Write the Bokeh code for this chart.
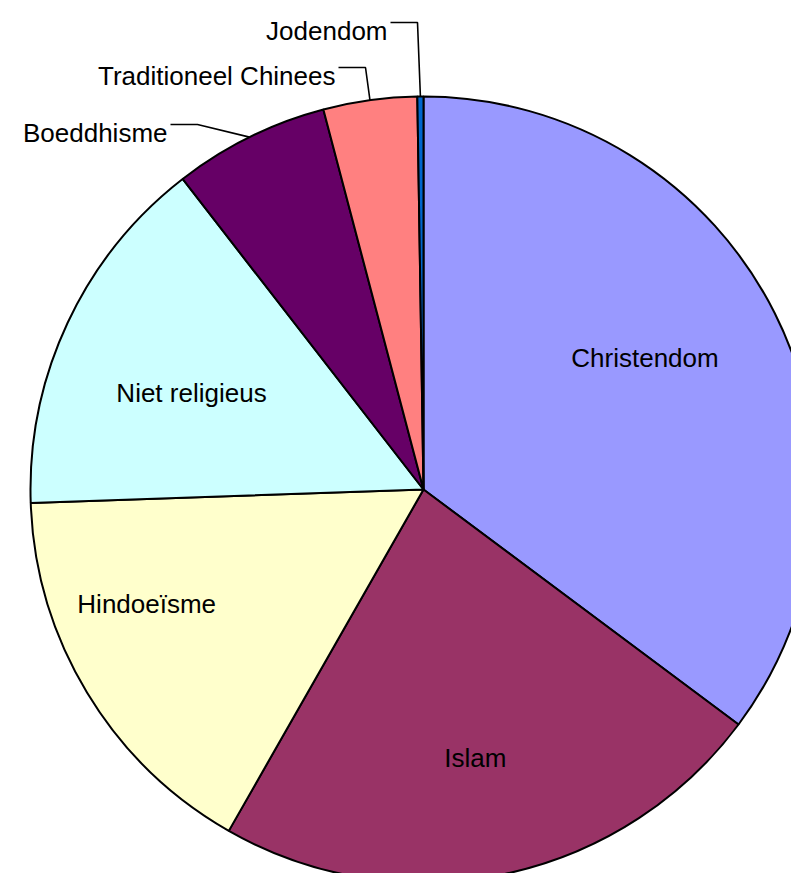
import math
from bokeh.plotting import figure
from bokeh.models import Range1d, ColumnDataSource
from bokeh.embed import file_html
from bokeh.resources import INLINE
from bokeh.core.properties import value

# ---- data ----
religions = ["Christendom", "Islam", "Hindoeïsme", "Niet religieus",
             "Boeddhisme", "Traditioneel Chinees", "Jodendom"]
shares = [35.2, 23.05, 16.2, 15.05, 6.4, 3.85, 0.25]
colors = ["#9999FF", "#993366", "#FFFFCC", "#CCFFFF",
          "#660066", "#FF8080", "#0066CC"]

# ---- layout ----
W, H = 791, 873          # figure size in px
R_PX = 393               # pie radius in px
CX, CY = 423, 489        # pie centre in figure px
FONT = value("Liberation Sans")
FSIZE = "26px"

# inside labels: (angle shift from slice middle in degrees, radius fraction)
inside = {"Christendom": (-4.0, 0.655), "Islam": (0.9, 0.697),
          "Hindoeïsme": (8.7, 0.762), "Niet religieus": (-2.6, 0.639)}
# outside labels: right edge x and baseline y in figure px
outside = {"Boeddhisme": (167, 132), "Traditioneel Chinees": (335, 75),
           "Jodendom": (387, 30)}

def px2data(px, py):
    return (px - CX) / R_PX, (CY - py) / R_PX

total = sum(shares)
starts, ends, mids = [], [], []
cum = 0.0
for s in shares:
    a0 = cum / total * 2 * math.pi
    cum += s
    a1 = cum / total * 2 * math.pi
    starts.append(math.pi / 2 - a0)
    ends.append(math.pi / 2 - a1)
    mids.append((a0 + a1) / 2)   # clockwise from top, radians

src = ColumnDataSource(dict(name=religions, share=shares, color=colors,
                            start=starts, end=ends))

p = figure(width=W, height=H,
           x_range=Range1d(-CX / R_PX, (W - CX) / R_PX),
           y_range=Range1d(-(H - CY) / R_PX, CY / R_PX),
           output_backend="svg", toolbar_location=None, min_border=0)
p.axis.visible = False
p.grid.visible = False
p.outline_line_color = None
p.background_fill_color = "white"
p.border_fill_color = "white"

p.wedge(x=0, y=0, radius=1, start_angle="start", end_angle="end",
        direction="clock", fill_color="color", line_color="black",
        line_width=2, source=src)

# inside labels
lx, ly, lt = [], [], []
for name, mid in zip(religions, mids):
    if name in inside:
        dth, rf = inside[name]
        a = mid + math.radians(dth)
        lx.append(rf * math.sin(a))
        ly.append(rf * math.cos(a))
        lt.append(name)
p.text(x=lx, y=ly, text=lt, text_font=FONT, text_font_size=FSIZE,
       text_align="center", text_baseline="middle", text_color="black")

# outside labels with leader lines
ox, oy, ot = [], [], []
xs, ys = [], []
for name, mid in zip(religions, mids):
    if name in outside:
        rx, by = outside[name]
        tx, ty = px2data(rx, by)
        ox.append(tx); oy.append(ty); ot.append(name)
        hx0, hy = px2data(rx + 3, by - 8)
        hx1, _ = px2data(rx + 30, by - 8)
        ex, ey = math.sin(mid), math.cos(mid)
        xs.append([hx0, hx1, ex]); ys.append([hy, hy, ey])
p.multi_line(xs=xs, ys=ys, line_color="black", line_width=1.6)
p.text(x=ox, y=oy, text=ot, text_font=FONT, text_font_size=FSIZE,
       text_align="right", text_baseline="alphabetic", text_color="black")

open("out.html", "w").write(file_html(p, INLINE))
